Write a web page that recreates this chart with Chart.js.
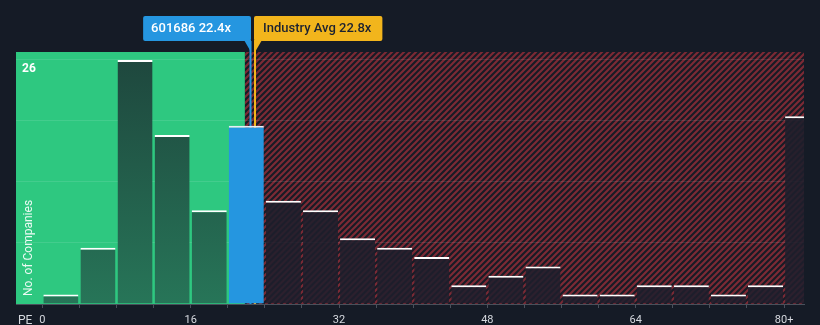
<!DOCTYPE html>
<html>
<head>
<meta charset="utf-8">
<script src="https://cdn.jsdelivr.net/npm/chart.js@4/dist/chart.umd.min.js"></script>
<style>
  html, body { margin: 0; padding: 0; background: #151b26; }
  #wrap { position: relative; width: 820px; height: 325px; }
</style>
</head>
<body>
<div id="wrap"><canvas id="pe"></canvas></div>
<script>
// PE histogram: bins of width 4, last bin is "80+"
const binStarts = [0, 4, 8, 12, 16, 20, 24, 28, 32, 36, 40, 44, 48, 52, 56, 60, 64, 68, 72, 76, 80]
const companyCounts = [1, 6, 26, 18, 10, 19, 11, 10, 7, 6, 5, 2, 3, 4, 1, 1, 2, 2, 1, 2, 20]
const tickValues = [0, 4, 8, 12, 16, 20, 24, 28, 32, 36, 40, 44, 48, 52, 56, 60, 64, 68, 72, 76, 80]
const labelledTicks = [0, 16, 32, 48, 64, 80]
const gridValues = [0, 6.5, 13, 19.5, 26]
const binWidth = 4

const companyName = '601686'
const companyPE = 22.4
const industryPE = 22.8
const fairUpTo = 21.85   // green zone ends here

const BG = '#151b26'
const GREEN = '#2ec880'
const BLUE = '#2596e0'
const ORANGE = '#f2b51c'
const LABEL = '#d6d9df'

Chart.defaults.font.family = "Roboto, 'DejaVu Sans', sans-serif"
Chart.defaults.font.size = 11
Chart.defaults.color = LABEL

// diagonal red hatch for the overvalued zone
const hatch = (() => {
    const c = document.createElement('canvas')
    c.width = c.height = 6
    const g = c.getContext('2d')
    g.fillStyle = '#171b25'
    g.fillRect(0, 0, 6, 6)
    g.strokeStyle = '#7c2a35'
    g.lineWidth = 2.2
    g.beginPath()
    g.moveTo(-1, 7); g.lineTo(7, -1)
    g.moveTo(-1, 1); g.lineTo(1, -1)
    g.moveTo(5, 7); g.lineTo(7, 5)
    g.stroke()
    return c
})()

const points = binStarts.map((s, i) => ({ x: s + binWidth / 2, y: companyCounts[i] }))

function barFill(ctx) {
    const chart = ctx.chart
    const area = chart.chartArea
    if (!area) return 'transparent'
    const start = binStarts[ctx.dataIndex]
    if (start <= companyPE && companyPE < start + binWidth) return BLUE
    const g = chart.ctx.createLinearGradient(0, area.top, 0, area.bottom)
    if (start + binWidth / 2 < fairUpTo) {
        g.addColorStop(0, '#1e463d')
        g.addColorStop(1, '#277558')
    } else {
        g.addColorStop(0, 'rgba(28, 30, 42, 0.92)')
        g.addColorStop(1, 'rgba(30, 30, 44, 0.85)')
    }
    return g
}

const zones = {
    id: 'zones',
    beforeDraw(chart) {
        const { ctx, chartArea: a, scales: { x } } = chart
        const split = x.getPixelForValue(fairUpTo)
        ctx.save()
        ctx.fillStyle = GREEN
        ctx.fillRect(a.left, a.top, split - a.left, a.bottom - a.top)
        ctx.fillStyle = ctx.createPattern(hatch, 'repeat')
        ctx.fillRect(split, a.top, a.right - split, a.bottom - a.top)
        ctx.restore()
    },
    beforeDatasetsDraw(chart) {
        const { ctx, chartArea: a, scales: { x } } = chart
        ctx.save()
        ctx.lineWidth = 2
        ctx.strokeStyle = BLUE
        const bx = Math.round(x.getPixelForValue(companyPE)) + 0.5
        ctx.beginPath(); ctx.moveTo(bx, 41); ctx.lineTo(bx, a.bottom); ctx.stroke()
        ctx.strokeStyle = ORANGE
        const ox = Math.round(x.getPixelForValue(industryPE)) + 1
        ctx.beginPath(); ctx.moveTo(ox, 41); ctx.lineTo(ox, a.bottom); ctx.stroke()
        ctx.restore()
    },
    afterDraw(chart) {
        const { ctx, chartArea: a, scales: { x, y } } = chart
        ctx.save()

        // top count label and axis titles
        ctx.fillStyle = '#ffffff'
        ctx.font = "bold 12px Roboto, sans-serif"
        ctx.textBaseline = 'middle'
        ctx.textAlign = 'left'
        ctx.fillText('26', a.left + 6, y.getPixelForValue(26) + 9)

        ctx.fillStyle = LABEL
        ctx.font = "12px Roboto, sans-serif"
        ctx.fillText('PE', 18, 321)

        ctx.save()
        ctx.translate(32, 296)
        ctx.rotate(-Math.PI / 2)
        ctx.textAlign = 'left'
        ctx.textBaseline = 'alphabetic'
        ctx.fillStyle = 'rgba(255,255,255,0.9)'
        ctx.font = "12px Roboto, sans-serif"
        ctx.fillText('No. of Companies', 0, 0)
        ctx.restore()

        // company tag
        ctx.font = "500 13px Roboto, sans-serif"
        const bx = Math.round(x.getPixelForValue(companyPE)) + 1
        const bText = companyName + ' ' + companyPE + 'x'
        const bw = ctx.measureText(bText).width + 28
        ctx.fillStyle = BLUE
        ctx.beginPath()
        ctx.roundRect(bx - bw, 16, bw, 25, 2)
        ctx.fill()
        ctx.beginPath()
        ctx.moveTo(bx - 7, 40); ctx.lineTo(bx, 40); ctx.lineTo(bx, 52); ctx.closePath()
        ctx.fill()
        ctx.fillStyle = '#ffffff'
        ctx.textBaseline = 'middle'
        ctx.fillText(bText, bx - bw + 8, 29)

        // industry tag
        const ox = Math.round(x.getPixelForValue(industryPE))
        const oText = 'Industry Avg ' + industryPE + 'x'
        const ow = ctx.measureText(oText).width + 20
        ctx.fillStyle = ORANGE
        ctx.beginPath()
        ctx.roundRect(ox, 16, ow, 25, 2)
        ctx.fill()
        ctx.beginPath()
        ctx.moveTo(ox, 40); ctx.lineTo(ox + 8, 40); ctx.lineTo(ox + 1, 52); ctx.closePath()
        ctx.fill()
        ctx.fillStyle = '#1c2230'
        ctx.fillText(oText, ox + 9, 29)

        ctx.restore()
    }
}

new Chart(document.getElementById('pe'), {
    type: 'bar',
    data: {
        datasets: [{
            data: points,
            backgroundColor: barFill,
            borderColor: (ctx) => {
                const s = binStarts[ctx.dataIndex]
                return (s <= companyPE && companyPE < s + binWidth) ? '#e6edf5' : '#ffffff'
            },
            borderWidth: { top: 2, left: 0, right: 0, bottom: 0 },
            borderSkipped: false,
            barPercentage: 0.945,
            categoryPercentage: 1,
        }],
    },
    plugins: [zones],
    options: {
        responsive: true,
        maintainAspectRatio: false,
        animation: false,
        layout: { padding: { left: 16, right: 16, top: 52, bottom: 0 } },
        plugins: { legend: { display: false }, tooltip: { enabled: false } },
        scales: {
            x: {
                type: 'linear',
                offset: false,
                min: -2.84,
                max: 82.15,
                afterBuildTicks: (s) => { s.ticks = tickValues.map(v => ({ value: v })) },
                afterFit: (s) => { s.height = 21 },
                grid: { offset: false, drawOnChartArea: false, drawTicks: true, tickLength: 4, color: '#4a505b' },
                border: { color: '#4a505b', width: 1 },
                ticks: {
                    autoSkip: false,
                    maxRotation: 0,
                    padding: 6,
                    color: LABEL,
                    font: { size: 11 },
                    callback: (v) => labelledTicks.includes(v) ? (v === 80 ? '80+' : String(v)) : '',
                },
            },
            y: {
                min: 0,
                max: 26.85,
                afterBuildTicks: (s) => { s.ticks = gridValues.map(v => ({ value: v })) },
                afterFit: (s) => { s.width = 0 },
                grid: {
                    drawTicks: false,
                    color: (c) => c.tick && c.tick.value === 0 ? 'transparent' : 'rgba(255,255,255,0.1)',
                },
                border: { display: false },
                ticks: { display: false },
            },
        },
    },
})
</script>
</body>
</html>
